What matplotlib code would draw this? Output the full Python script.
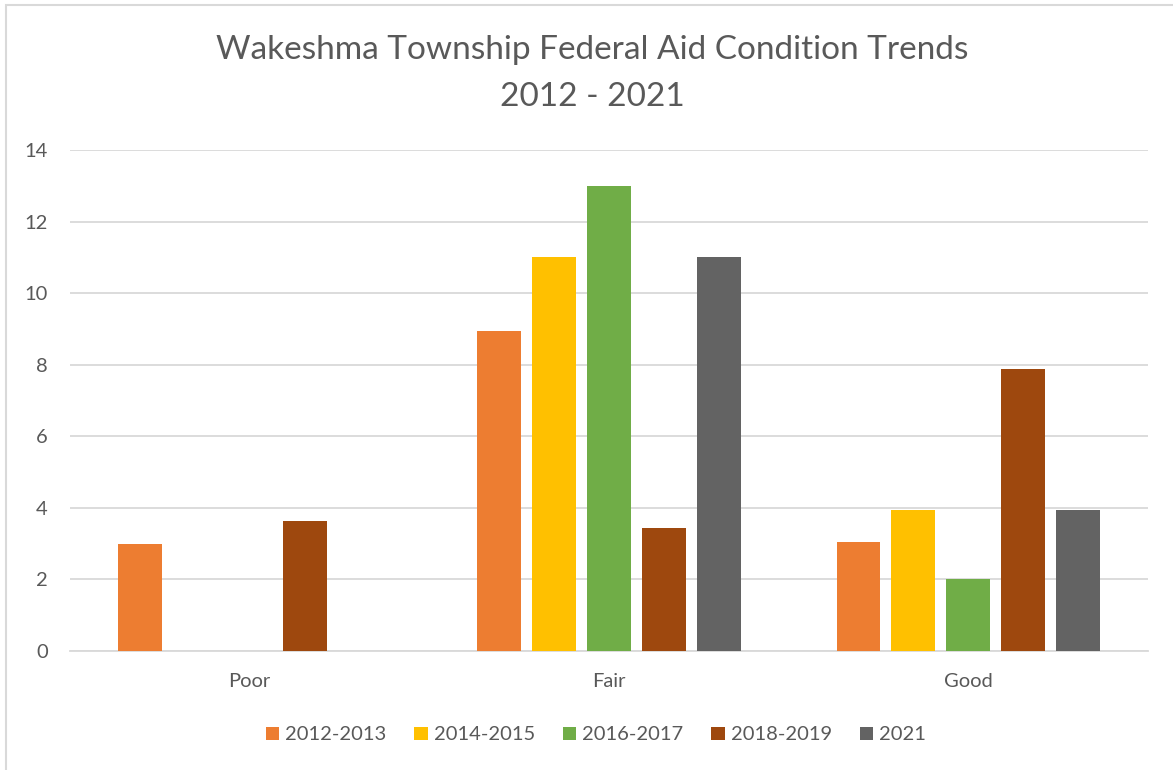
import numpy as np
import matplotlib.pyplot as plt
from matplotlib.patches import Rectangle

categories = ["Poor", "Fair", "Good"]
series = ["2012-2013", "2014-2015", "2016-2017", "2018-2019", "2021"]
v_2012_2013 = [3.0, 8.95, 3.05]
v_2014_2015 = [0, 11.0, 3.95]
v_2016_2017 = [0, 13.0, 2.0]
v_2018_2019 = [3.62, 3.45, 7.88]
v_2021 = [0, 11.0, 3.95]
values = [v_2012_2013, v_2014_2015, v_2016_2017, v_2018_2019, v_2021]
colors = ["#ED7D31", "#FFC000", "#70AD47", "#9E480E", "#636363"]

txt = "#595959"
plt.rcParams["font.family"] = ["Lato", "DejaVu Sans"]

fig = plt.figure(figsize=(11.73, 7.70), dpi=100)
ax = fig.add_axes([70 / 1173, 1 - 651 / 770, 1078 / 1173, 501 / 770])

# chart border (partly cropped in the reference)
fig.patches.append(Rectangle((6 / 1173, -0.05), 1.2, 1 - 5 / 770 + 0.05,
                             transform=fig.transFigure, fill=False,
                             edgecolor="#D9D9D9", linewidth=1.5))

x = np.arange(len(categories))
step = 55 / 360
width = 44 / 360
for i, (name, vals, c) in enumerate(zip(series, values, colors)):
    ax.bar(x + (i - 2) * step, vals, width=width, color=c, label=name, zorder=3)

ax.set_xlim(-0.5, 2.5)
ax.set_ylim(0, 14)
ax.set_yticks(np.arange(0, 15, 2))
ax.set_xticks(x)
ax.set_xticklabels(categories)
ax.grid(axis="y", color="#D9D9D9", linewidth=1.3, zorder=0)
for s in ["top", "right", "left"]:
    ax.spines[s].set_visible(False)
ax.spines["bottom"].set_color("#D9D9D9")
ax.spines["bottom"].set_linewidth(1.3)
ax.tick_params(axis="both", length=0, labelsize=14.5, colors=txt)
ax.tick_params(axis="y", pad=16)
ax.tick_params(axis="x", pad=16)

fig.text(0.505, 1 - 50 / 770, "Wakeshma Township Federal Aid Condition Trends",
         ha="center", va="center", fontsize=24, color=txt)
fig.text(0.505, 1 - 97 / 770, "2012 - 2021",
         ha="center", va="center", fontsize=24, color=txt)

fig.legend(loc="center", bbox_to_anchor=(0.508, 1 - 735 / 770), ncol=5,
           frameon=False, fontsize=14.5, labelcolor=txt, handlelength=0.65,
           handleheight=0.65, handletextpad=0.3, columnspacing=1.4)

fig.savefig("out.png", dpi=100)
